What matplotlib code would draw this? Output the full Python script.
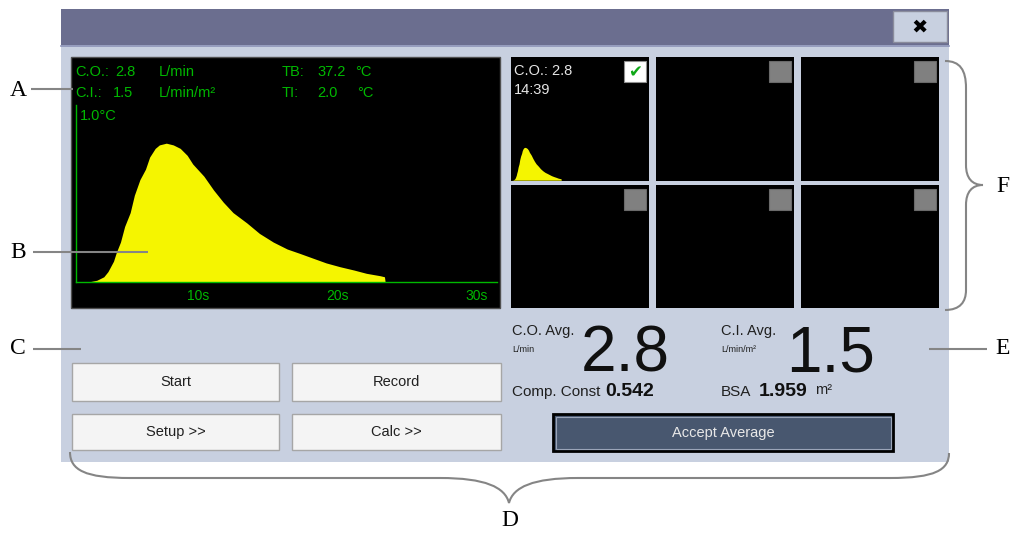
import matplotlib

matplotlib.use("Agg")
import matplotlib.pyplot as plt
from matplotlib.patches import Rectangle, PathPatch
from matplotlib.path import Path

W, H = 1013, 533

# thermodilution curve (s, degC)
wave_time_s = [1.2, 2.2, 2.7, 3.2, 3.5, 3.9, 4.1, 4.4, 4.7, 5.1, 5.4, 5.8, 6.2, 6.5,
               6.9, 7.2, 7.7, 8.2, 8.7, 9.2, 9.6, 10.4, 11.1, 11.8, 12.5, 13.5, 14.4,
               15.4, 16.4, 17.3, 18.3, 19.2, 20.2, 21.2, 22.1, 23.1, 23.4, 23.45]
wave_temp_c = [0.0, 0.002, 0.01, 0.03, 0.06, 0.12, 0.17, 0.23, 0.32, 0.40, 0.50, 0.59,
               0.65, 0.72, 0.77, 0.79, 0.80, 0.79, 0.77, 0.73, 0.68, 0.61, 0.53, 0.46,
               0.40, 0.34, 0.28, 0.23, 0.19, 0.165, 0.136, 0.11, 0.088, 0.069, 0.05,
               0.036, 0.03, 0.0]

x_ticks_s = [10, 20, 30]
x_tick_labels = ["10s", "20s", "30s"]

co_value = "2.8"
ci_value = "1.5"
tb_value = "37.2"
ti_value = "2.0"
scale_label = "1.0°C"
comp_const = "0.542"
bsa_value = "1.959"
record_time = "14:39"

button_labels = ["Start", "Record", "Setup >>", "Calc >>"]
callout_labels = ["A", "B", "C", "D", "E", "F"]

PANEL = "#C8D0E0"
TITLE_BAR = "#6B6E8F"
GREEN = "#00B800"
YELLOW = "#F5F500"
CALLOUT_GREY = "#858585"
UI_FONT = ["Liberation Sans", "DejaVu Sans"]
SERIF = ["Liberation Serif", "DejaVu Serif"]


def px_axes(fig, x0, y0, x1, y1, zorder=1):
    return fig.add_axes([x0 / W, 1 - y1 / H, (x1 - x0) / W, (y1 - y0) / H], zorder=zorder)


def box(ax, x0, y0, x1, y1, face, edge="none", lw=1.0, z=1):
    ax.add_patch(Rectangle((x0, y0), x1 - x0, y1 - y0, facecolor=face,
                           edgecolor=edge, linewidth=lw, zorder=z))


def label(ax, x, y, s, size=10.5, color="#202020", ha="left", va="center", **kw):
    ax.text(x, y, s, fontsize=size, color=color, ha=ha, va=va, family=UI_FONT, **kw)


fig = plt.figure(figsize=(W / 100, H / 100), dpi=100)
fig.patch.set_facecolor("white")

ui = fig.add_axes([0, 0, 1, 1], zorder=0)
ui.set_xlim(0, W)
ui.set_ylim(H, 0)
ui.axis("off")

# window frame
box(ui, 61, 9, 949, 462, PANEL)
box(ui, 61, 9, 949, 45, TITLE_BAR)
ui.plot([61, 949], [46, 46], color="#8C93B8", lw=1.2)
box(ui, 893, 11, 947, 42, PANEL, "#8A8C9C", 1.0, z=2)
ui.text(920, 27, "✖", fontsize=14, ha="center", va="center",
        family=["DejaVu Sans"], color="black", zorder=3)

# big waveform area
box(ui, 71, 57, 500, 308, "black", "#505050", 1.0)
label(ui, 75, 72.5, "C.O.:", color=GREEN)
label(ui, 115, 72.5, co_value, color=GREEN)
label(ui, 159, 72.5, "L/min", color=GREEN)
label(ui, 282, 72.5, "TB:", color=GREEN)
label(ui, 317, 72.5, tb_value, color=GREEN)
label(ui, 355, 72.5, "°C", color=GREEN)
label(ui, 75, 93, "C.I.:", color=GREEN)
label(ui, 113, 93, ci_value, color=GREEN)
label(ui, 159, 93, "L/min/m²", color=GREEN)
label(ui, 282, 93, "TI:", color=GREEN)
label(ui, 317, 93, ti_value, color=GREEN)
label(ui, 357, 93, "°C", color=GREEN)
label(ui, 80, 116, scale_label, color=GREEN)

wave = px_axes(fig, 76, 105, 497, 282)
wave.set_facecolor("none")
wave.fill_between(wave_time_s, wave_temp_c, 0, color=YELLOW, linewidth=0, zorder=1)
wave.set_xlim(1.2, 31.5)
wave.set_ylim(0, 1.02)
for side in ("top", "right"):
    wave.spines[side].set_visible(False)
for side in ("left", "bottom"):
    wave.spines[side].set_color(GREEN)
    wave.spines[side].set_linewidth(1.0)
wave.set_yticks([])
wave.set_xticks(x_ticks_s, x_tick_labels)
wave.tick_params(axis="x", length=0, pad=5, labelcolor=GREEN, labelsize=10)
for t in wave.get_xticklabels():
    t.set_family(UI_FONT)

# thumbnails, 3 x 2
cell_cols = [(511, 649), (656, 794), (801, 939)]
cell_rows = [(57, 181), (185, 308)]
for r, (y0, y1) in enumerate(cell_rows):
    for c, (x0, x1) in enumerate(cell_cols):
        box(ui, x0, y0, x1, y1, "black")
        if r == 0 and c == 0:
            box(ui, x1 - 25, y0 + 4, x1 - 3, y0 + 25, "white", "#909090", 0.8, z=2)
            ui.text(x1 - 14, y0 + 15, "✔", fontsize=12, color="#10A818", ha="center",
                    va="center", family=["DejaVu Sans"], zorder=3)
        else:
            box(ui, x1 - 25, y0 + 4, x1 - 3, y0 + 25, "#808080", "#6A6A6A", 0.8, z=2)

label(ui, 514, 71, "C.O.: " + co_value, size=10.5, color="#E6E6E6")
label(ui, 514, 90, record_time, size=10.5, color="#E6E6E6")

thumb = px_axes(fig, 511, 57, 649, 181)
thumb.set_facecolor("none")
thumb.fill_between(wave_time_s, wave_temp_c, 0, color=YELLOW, linewidth=0)
thumb.set_xlim(1.6, 61.6)
thumb.set_ylim(-0.02, 3.0)
thumb.axis("off")

# averages
label(ui, 512, 331, "C.O. Avg.", size=10.5)
label(ui, 512, 350, "L/min", size=6.5)
label(ui, 581, 371, co_value, size=46, color="#101010", va="baseline")
label(ui, 721, 331, "C.I. Avg.", size=10.5)
label(ui, 721, 350, "L/min/m²", size=6.5)
label(ui, 786, 371, ci_value, size=46, color="#101010", va="baseline")
label(ui, 512, 392, "Comp. Const", size=11)
label(ui, 605, 392, comp_const, size=14, fontweight="bold", color="#101010")
label(ui, 721, 392, "BSA", size=11)
label(ui, 759, 392, bsa_value, size=14, fontweight="bold", color="#101010")
label(ui, 815, 390, "m²", size=10.5)

box(ui, 553, 414, 893, 451, "#48576F", "black", 2.0)
box(ui, 555.5, 416.5, 890.5, 448.5, "none", "#9AA4B8", 0.8)
label(ui, 723, 433, "Accept Average", size=10.5, color="#E8E8E8", ha="center")

# buttons
button_boxes = [(72, 363, 279, 401), (292, 363, 501, 401),
                (72, 414, 279, 450), (292, 414, 501, 450)]
for (x0, y0, x1, y1), name in zip(button_boxes, button_labels):
    box(ui, x0, y0, x1, y1, "#F4F4F4", "#A6A6A6", 1.0)
    label(ui, (x0 + x1) / 2, (y0 + y1) / 2, name, ha="center")

# callouts on top of everything
notes = fig.add_axes([0, 0, 1, 1], zorder=5)
notes.set_xlim(0, W)
notes.set_ylim(H, 0)
notes.axis("off")
notes.patch.set_alpha(0)

callout_pos = [(18, 91), (18, 252), (18, 349), (510, 521), (1003, 349), (1003, 186)]
callout_lines = [((31, 73), (89, 89)), ((33, 148), (252, 252)), ((33, 81), (349, 349)),
                 None, ((929, 987), (349, 349)), None]
for (x, y), name, seg in zip(callout_pos, callout_labels, callout_lines):
    notes.text(x, y, name, fontsize=17, ha="center", va="center", family=SERIF, color="black")
    if seg:
        notes.plot(seg[0], seg[1], color=CALLOUT_GREY, lw=1.5, solid_capstyle="butt")

M, L, C = Path.MOVETO, Path.LINETO, Path.CURVE4
brace_d = Path(
    [(70, 452), (70, 470), (85, 478), (130, 478), (440, 478),
     (485, 478), (505, 487), (509, 503),
     (513, 487), (533, 478), (578, 478), (890, 478),
     (935, 478), (949, 470), (949, 453)],
    [M, C, C, C, L, C, C, C, C, C, C, L, C, C, C])
brace_f = Path(
    [(945, 61), (960, 61), (966, 70), (966, 88), (966, 165),
     (966, 178), (972, 185), (983, 185),
     (972, 185), (966, 192), (966, 205), (966, 290),
     (966, 302), (960, 310), (945, 310)],
    [M, C, C, C, L, C, C, C, C, C, C, L, C, C, C])
for p in (brace_d, brace_f):
    notes.add_patch(PathPatch(p, facecolor="none", edgecolor=CALLOUT_GREY, lw=1.5))

fig.savefig("out.png", dpi=100)
